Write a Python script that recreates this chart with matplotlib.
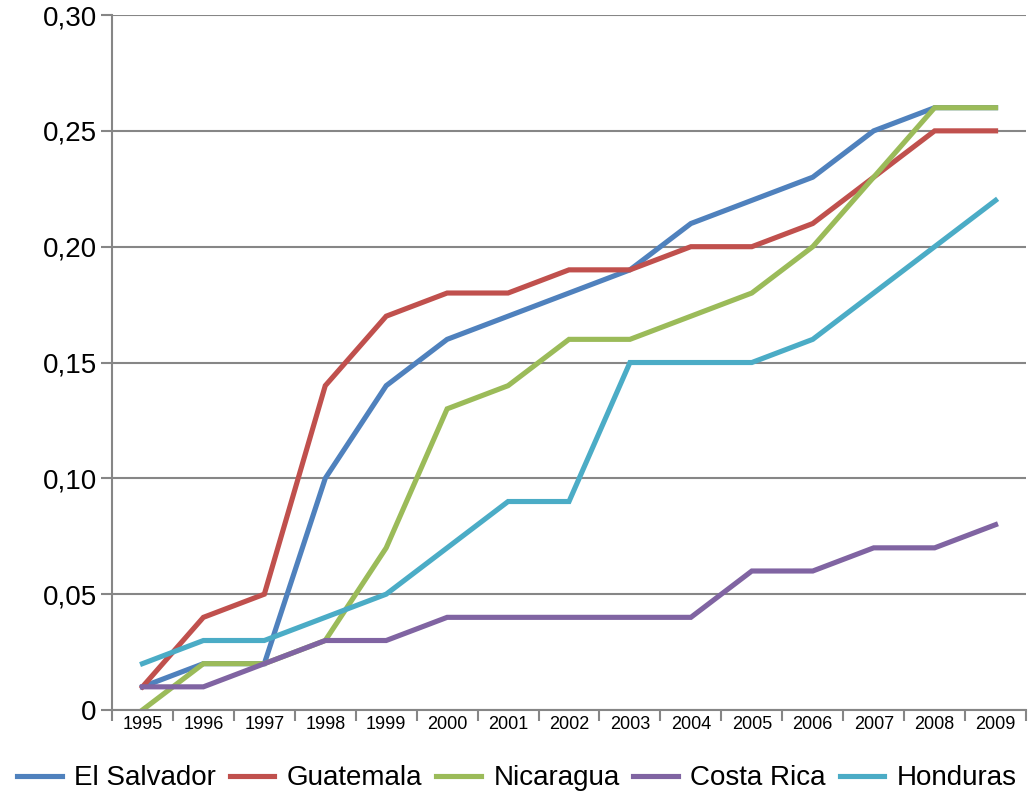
import matplotlib.pyplot as plt
from matplotlib.ticker import FuncFormatter, FixedLocator

# Datos por país, 1995-2009
years = [str(y) for y in range(1995, 2010)]
el_salvador = [0.01, 0.02, 0.02, 0.10, 0.14, 0.16, 0.17, 0.18, 0.19, 0.21, 0.22, 0.23, 0.25, 0.26, 0.26]
guatemala = [0.01, 0.04, 0.05, 0.14, 0.17, 0.18, 0.18, 0.19, 0.19, 0.20, 0.20, 0.21, 0.23, 0.25, 0.25]
nicaragua = [0.00, 0.02, 0.02, 0.03, 0.07, 0.13, 0.14, 0.16, 0.16, 0.17, 0.18, 0.20, 0.23, 0.26, 0.26]
costa_rica = [0.01, 0.01, 0.02, 0.03, 0.03, 0.04, 0.04, 0.04, 0.04, 0.04, 0.06, 0.06, 0.07, 0.07, 0.08]
honduras = [0.02, 0.03, 0.03, 0.04, 0.05, 0.07, 0.09, 0.09, 0.15, 0.15, 0.15, 0.16, 0.18, 0.20, 0.22]

series = [
    ('El Salvador', el_salvador, '#4F81BD'),
    ('Guatemala', guatemala, '#C0504D'),
    ('Nicaragua', nicaragua, '#9BBB59'),
    ('Costa Rica', costa_rica, '#8064A2'),
    ('Honduras', honduras, '#4BACC6'),
]

plt.rcParams['font.family'] = ['Liberation Sans', 'DejaVu Sans']
grey = '#868686'

fig = plt.figure(figsize=(10.34, 7.91), dpi=100)
ax = fig.add_axes([0.1083, 0.1024, 0.8840, 0.8786])

x = list(range(len(years)))
for name, vals, color in series:
    ax.plot(x, vals, color=color, lw=3.7, label=name, solid_joinstyle='miter')

ax.set_xlim(-0.5, len(years) - 0.5)
ax.set_ylim(0, 0.30)
ax.set_yticks([0, 0.05, 0.10, 0.15, 0.20, 0.25, 0.30])
ax.yaxis.set_major_formatter(FuncFormatter(lambda v, p: '0' if v == 0 else f'{v:.2f}'.replace('.', ',')))
ax.grid(axis='y', color=grey, lw=1.5)
ax.set_axisbelow(True)

# Etiquetas centradas en cada categoría, marcas en los límites
ax.set_xticks(x)
ax.set_xticklabels(years, fontsize=13)
ax.tick_params(axis='x', which='major', length=0, pad=4)
ax.xaxis.set_minor_locator(FixedLocator([i - 0.5 for i in range(len(years) + 1)]))
ax.tick_params(axis='x', which='minor', length=8, width=1.5, color=grey)
ax.tick_params(axis='y', length=8, width=1.5, color=grey, labelsize=20, pad=3)

for side in ['top', 'right']:
    ax.spines[side].set_visible(False)
for side in ['left', 'bottom']:
    ax.spines[side].set_color(grey)
    ax.spines[side].set_linewidth(1.5)

fig.legend(loc='lower center', bbox_to_anchor=(0.5, -0.032), ncol=5, frameon=False,
           fontsize=20, handlelength=1.6, handletextpad=0.45, columnspacing=0.5)

fig.savefig('out.png', dpi=100)
